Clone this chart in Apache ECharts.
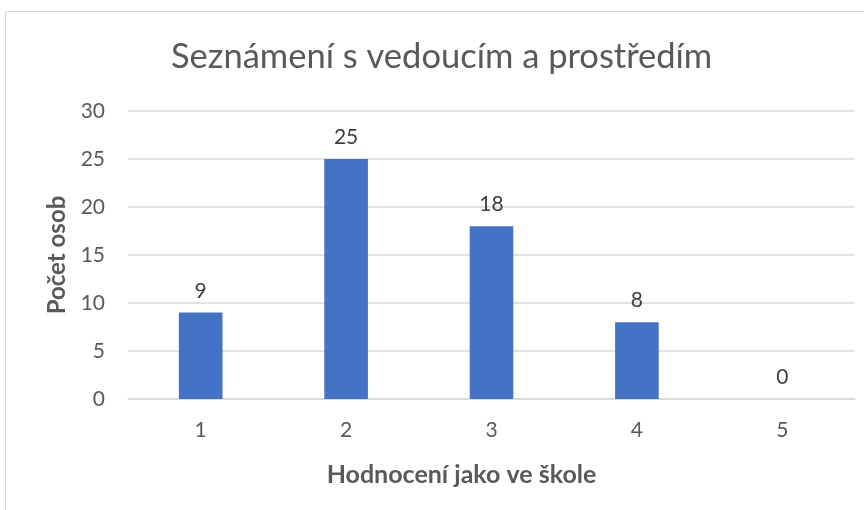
<!DOCTYPE html>
<html>
<head>
<meta charset="utf-8">
<script src="https://cdn.jsdelivr.net/npm/echarts@6/dist/echarts.min.js"></script>
<style>
  html, body { margin: 0; padding: 0; background: #fff; }
  #frame { position: absolute; left: 5px; top: 11px; width: 880px; height: 520px; border: 1px solid #d9d9d9; }
  #chart { position: absolute; left: 0; top: 0; width: 864px; height: 510px; }
</style>
</head>
<body>
<div id="frame"></div>
<div id="chart"></div>
<script>
const categories = ["1", "2", "3", "4", "5"]
const values = [9, 25, 18, 8, 0]
const titleText = "Seznámení s vedoucím a prostředím"
const xName = "Hodnocení jako ve škole"
const yName = "Počet osob"

const font = "Lato, 'Open Sans', sans-serif"
const chart = echarts.init(document.getElementById("chart"))
chart.setOption({
  animation: false,
  title: {
    text: titleText,
    left: 166,
    top: 34,
    textStyle: { color: "#595959", fontSize: 34.5, fontWeight: "normal", fontFamily: font }
  },
  grid: { left: 128, right: 9, top: 111, bottom: 111 },
  xAxis: {
    type: "category",
    data: categories,
    name: xName,
    nameLocation: "middle",
    nameGap: 63,
    nameTextStyle: { color: "#595959", fontSize: 25, fontWeight: "bold", fontFamily: font, padding: [0, 60, 0, 0] },
    axisLine: { lineStyle: { color: "#d9d9d9", width: 1.5 } },
    axisTick: { show: false },
    axisLabel: { color: "#595959", fontSize: 21, margin: 21, fontFamily: font }
  },
  yAxis: {
    type: "value",
    min: 0,
    max: 30,
    interval: 5,
    name: yName,
    nameLocation: "middle",
    nameGap: 58,
    nameTextStyle: { color: "#595959", fontSize: 24, fontWeight: "bold", fontFamily: font },
    axisLine: { show: false },
    axisTick: { show: false },
    splitLine: { lineStyle: { color: "#d9d9d9", width: 1.5 } },
    axisLabel: { color: "#595959", fontSize: 21, margin: 23, fontFamily: font }
  },
  series: [{
    type: "bar",
    data: values,
    barWidth: "30%",
    itemStyle: { color: "#4472c4" },
    label: {
      show: true,
      position: "top",
      distance: 11,
      color: "#404040",
      fontSize: 21,
      fontFamily: font
    }
  }]
})
</script>
</body>
</html>
